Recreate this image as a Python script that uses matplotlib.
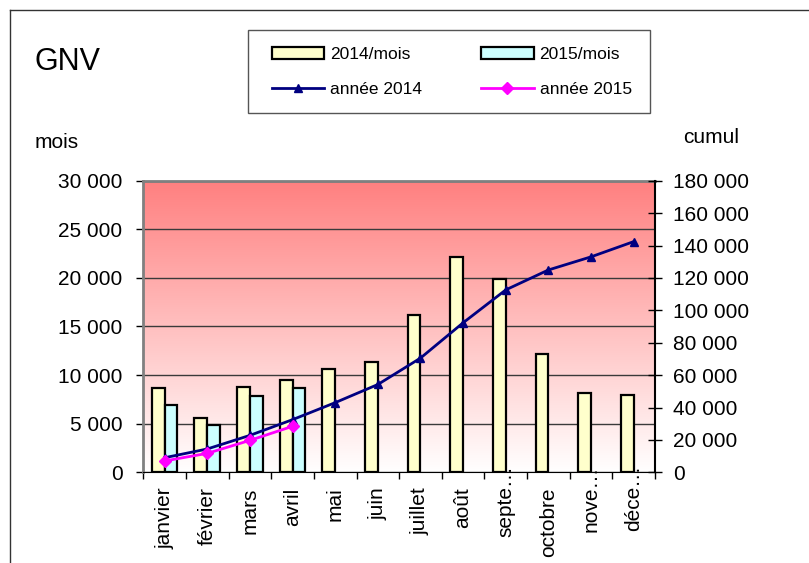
import numpy as np
import matplotlib
matplotlib.use('Agg')
import matplotlib.pyplot as plt
from matplotlib.ticker import FuncFormatter, MultipleLocator
from matplotlib.patches import Rectangle
from matplotlib.lines import Line2D
import matplotlib.transforms as mtransforms

plt.rcParams['font.family'] = ['Liberation Sans', 'DejaVu Sans']

# Données
mois = ['janvier', 'février', 'mars', 'avril', 'mai', 'juin', 'juillet',
        'août', 'septe…', 'octobre', 'nove…', 'déce…']
mois_2014 = [8700, 5600, 8800, 9450, 10600, 11300, 16200, 22200, 19900, 12200, 8200, 8000]
mois_2015 = [6900, 4850, 7800, 8700]
cumul_2014 = [9000, 14400, 22800, 32500, 43000, 54200, 70500, 92300, 112600, 124900, 133000, 142400]
cumul_2015 = [7000, 11700, 19700, 28400]

W, H = 809, 563
fig = plt.figure(figsize=(W / 100, H / 100), dpi=100)
ax = fig.add_axes([143.3 / W, 1 - 472.3 / H, (655 - 143.3) / W, (472.3 - 180.7) / H])

x = np.arange(len(mois))
x15 = np.arange(len(mois_2015))

# fond dégradé
grad = np.linspace(0, 1, 256).reshape(-1, 1)
c_top = np.array([1.0, 0.5, 0.5])
c_bot = np.array([1.0, 1.0, 1.0])
img = c_top + (c_bot - c_top) * grad[:, :, None] * np.ones((1, 1, 3))
ax.imshow(img, extent=[-0.5, 11.5, 0, 30000], aspect='auto', origin='upper', zorder=0)

fmt = FuncFormatter(lambda v, p: f'{v:,.0f}'.replace(',', ' '))

b1 = ax.bar(x - 0.15, mois_2014, width=0.3, color='#FFFFCC', edgecolor='black',
            linewidth=1.6, zorder=3, label='2014/mois')
b2 = ax.bar(x15 + 0.15, mois_2015, width=0.3, color='#CCFFFF', edgecolor='black',
            linewidth=1.6, zorder=3, label='2015/mois')
ax.set_xlim(-0.5, 11.5)
ax.set_ylim(0, 30000)
ax.yaxis.set_major_locator(MultipleLocator(5000))
ax.yaxis.set_major_formatter(fmt)
ax.grid(axis='y', color='#3a3a3a', linewidth=1, zorder=1)
ax.set_axisbelow(True)
ax.tick_params(axis='y', labelsize=15, length=5, width=1, pad=10, color='black')

ax.set_xticks(np.arange(13) - 0.5)
ax.set_xticklabels([])
ax.set_xticks(x, minor=True)
labels = [m if not m.endswith('…') else '' for m in mois]
ax.set_xticklabels(labels, minor=True, rotation=90, fontsize=15, va='top')
ax.tick_params(axis='x', which='major', length=5, width=1)
ax.tick_params(axis='x', which='minor', length=0, pad=11)

off = mtransforms.offset_copy(ax.get_xaxis_transform(), fig=fig, x=0, y=7, units='dots')
for i, m in enumerate(mois):
    if m.endswith('…'):
        ax.text(i, 0, m, transform=off, rotation=90, fontsize=15, ha='center',
                va='top', clip_on=False, zorder=6)

ax.spines['top'].set_color('#808080')
ax.spines['top'].set_linewidth(2)
ax.spines['left'].set_color('#808080')
ax.spines['left'].set_linewidth(2)
ax.spines['bottom'].set_color('black')
ax.spines['right'].set_visible(False)

ax2 = ax.twinx()
l1, = ax2.plot(x, cumul_2014, color='#000080', linewidth=2, marker='^', markersize=6,
               label='année 2014', zorder=5)
l2, = ax2.plot(x15, cumul_2015, color='#FF00FF', linewidth=2, marker='D', markersize=6,
               label='année 2015', zorder=5)
ax2.set_ylim(0, 180000)
ax2.yaxis.set_major_locator(MultipleLocator(20000))
ax2.yaxis.set_major_formatter(fmt)
ax2.tick_params(axis='y', labelsize=15, direction='inout', length=10, width=1, pad=8)
for s in ['left', 'top', 'bottom']:
    ax2.spines[s].set_visible(False)
ax2.spines['right'].set_color('black')
ax2.spines['right'].set_linewidth(1.5)

# textes
fig.text(35 / W, 1 - 70 / H, 'GNV', fontsize=22, va='baseline', ha='left')
fig.text(35 / W, 1 - 148 / H, 'mois', fontsize=15, va='baseline', ha='left')
fig.text(683 / W, 1 - 143 / H, 'cumul', fontsize=15, va='baseline', ha='left')

# légende
fig.add_artist(Rectangle((248 / W, 1 - 112.7 / H), (650 - 248) / W, (112.7 - 30) / H,
                         transform=fig.transFigure, facecolor='white',
                         edgecolor='#555555', linewidth=1))
fig.legend([b1, l1, b2, l2], ['2014/mois', 'année 2014', '2015/mois', 'année 2015'],
           ncol=2, loc='center', bbox_to_anchor=(452 / W, 1 - 71.7 / H),
           frameon=False, fontsize=12.5, handlelength=3.0, handletextpad=0.35,
           columnspacing=3.4, labelspacing=1.15, numpoints=1, borderpad=0)

# cadre extérieur
fig.add_artist(Line2D([10 / W, 1], [1 - 10 / H, 1 - 10 / H], color='#333333', linewidth=1))
fig.add_artist(Line2D([10 / W, 10 / W], [0, 1 - 10 / H], color='#333333', linewidth=1))

fig.savefig('out.png', dpi=100)
